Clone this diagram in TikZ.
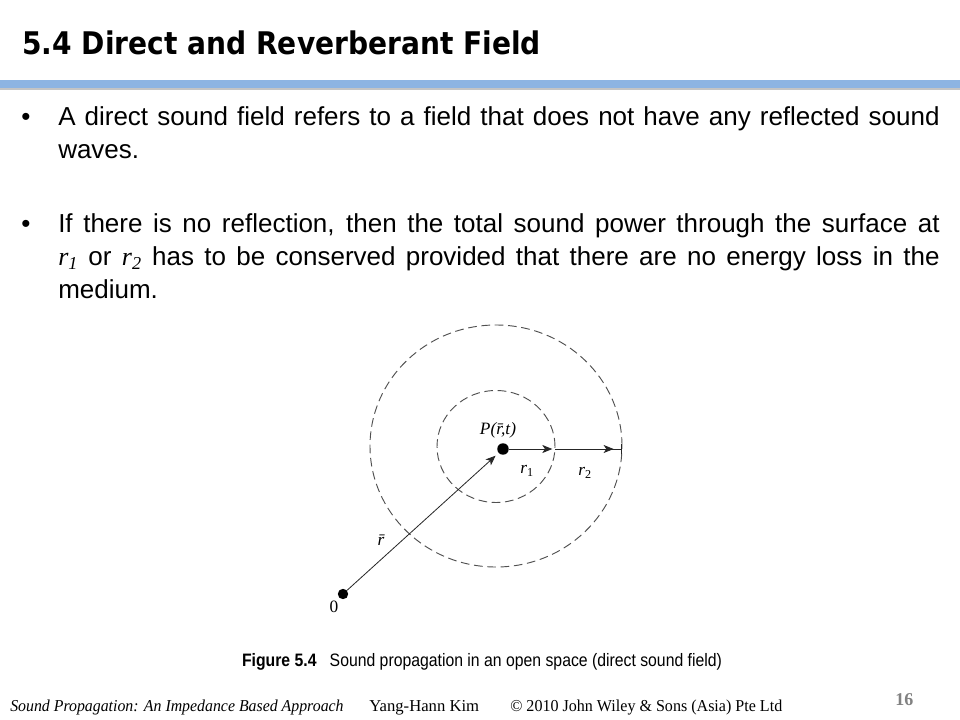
\documentclass[tikz,border=0pt]{standalone}
\usepackage{fontspec}
\usepackage{graphicx}
\setmainfont{Liberation Sans}
\newfontfamily\headfont{DejaVu Sans}
\newfontfamily\timesfont{Liberation Serif}
\usetikzlibrary{arrows.meta,shapes.geometric,calc}
\definecolor{bar_blue}{RGB}{141, 180, 226}
\definecolor{bar_shade}{RGB}{196, 196, 196}
\definecolor{ring_grey}{RGB}{80, 80, 80}
\definecolor{page_grey}{RGB}{130, 130, 130}
\tikzstyle{ring}=[ellipse,draw=ring_grey,dash pattern=on 6.5pt off 3.5pt,
  line width=0.7pt,inner sep=0pt,outer sep=0pt]
\tikzstyle{dot}=[circle,fill=black,inner sep=0pt]
\tikzstyle{vec}=[draw=black!85,line width=0.6pt,-{Stealth[length=7.5pt,width=6pt,inset=2pt]}]
\tikzstyle{bodytext}=[anchor=base west,inner sep=0pt,text width=661pt,align=justify,
  font=\fontsize{19.5pt}{24.4pt}\selectfont]
\tikzstyle{bul}=[anchor=base west,inner sep=0pt,font=\fontsize{19.5pt}{24.4pt}\selectfont]
\tikzstyle{lbl}=[inner sep=0pt,font=\timesfont\itshape\fontsize{13pt}{15pt}\selectfont]
\tikzstyle{foot}=[anchor=base west,inner sep=0pt,font=\timesfont\fontsize{12.5pt}{14pt}\selectfont]
\newcommand{\rsub}[1]{{\timesfont\itshape r\textsubscript{#1}}}
\begin{document}
\begin{tikzpicture}[x=0.75pt,y=-0.75pt]
        \useasboundingbox (0,0) rectangle (960,720);
        \fill[white] (0,0) rectangle (960,720);
        \node [anchor=base west,inner sep=0pt] (title) at (22,55)
          {\resizebox{389pt}{\height}{\headfont\bfseries\fontsize{23.4pt}{26pt}\selectfont 5.4 Direct and Reverberant Field}};
        \fill[bar_shade] (0,88) rectangle (960,90.5);
        \fill[bar_blue] (0,80) rectangle (960,88);
        \node [style=bul] (b1) at (21,126) {•};
        \node [style=bodytext] (p1) at (58,126)
          {A direct sound field refers to a field that does not have any reflected sound\linebreak waves.};
        \node [style=bul] (b2) at (21,233) {•};
        \node [style=bodytext] (p2) at (58,233)
          {If there is no reflection, then the total sound power through the surface at\linebreak
           \rsub{1} or \rsub{2} has to be conserved provided that there are no energy loss in the\linebreak medium.};
        \node [style=ring,minimum width=189pt,minimum height=181.5pt] (outer) at (496,446) {};
        \node [style=ring,minimum width=88.5pt,minimum height=84pt] (inner) at (496,446.5) {};
        \node [style=dot,minimum size=8.6pt] (P) at (503,449) {};
        \node [style=dot,minimum size=7.8pt] (O) at (343,594) {};
        \coordinate (e1) at (P -| inner.east);
        \coordinate (e2) at (P -| outer.east);
        \node [style=lbl] (lP) at (498,430) {P(\=r,t)};
        \node [style=lbl] (lr1) at (527,471) {r\textsubscript{\upshape 1}};
        \node [style=lbl] (lr2) at (585,473) {r\textsubscript{\upshape 2}};
        \node [style=lbl] (lr) at (381,540) {\=r};
        \node [style=lbl,font=\timesfont\fontsize{13pt}{15pt}\selectfont] (l0) at (334,607) {0};
        \draw [style=vec,shorten >=3pt] (O) to (P);
        \draw [style=vec,shorten >=2pt] (P) to (e1);
        \draw [draw=black!85,line width=0.6pt,
          -{Stealth[length=7.5pt,width=6pt,inset=2pt,sep=5.5pt]Bar[width=7pt,line width=0.8pt]}] (e1) to (e2);
        \node [anchor=base,inner sep=0pt] (cap) at (482,666)
          {\resizebox{360pt}{\height}{\fontsize{13.5pt}{16pt}\selectfont\textbf{Figure 5.4}\ \ \ Sound propagation in an open space (direct sound field)}};
        \node [style=foot] (book) at (10,711)
          {\resizebox{250pt}{\height}{\itshape Sound Propagation: An Impedance Based Approach}};
        \node [style=foot] (author) at (369,711) {Yang-Hann Kim};
        \node [style=foot] (copy) at (510,711) {\resizebox{204pt}{\height}{© 2010 John Wiley \& Sons (Asia) Pte Ltd}};
        \node [style=foot,text=page_grey,font=\timesfont\bfseries\fontsize{13.5pt}{16pt}\selectfont] (page) at (895,705) {16};
    \end{tikzpicture}
\end{document}
